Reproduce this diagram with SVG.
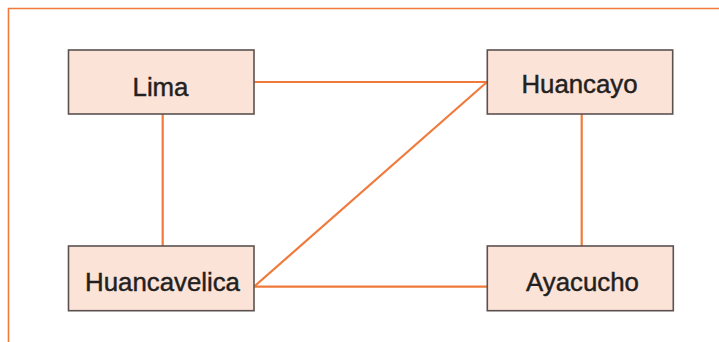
<svg xmlns="http://www.w3.org/2000/svg" width="719" height="342" viewBox="0 0 719 342">
<style>
.box{fill:#fce3d8;stroke:#5b5250;stroke-width:1.6}
.lbl{font-family:"Liberation Sans",Arial,sans-serif;font-size:25.8px;fill:#231f20;stroke:#231f20;stroke-width:0.45;text-anchor:middle}
.edge{stroke:#f07a3a;stroke-width:2.2;fill:none}
.frame{stroke:#f07a3a;stroke-width:1.6;fill:none}
</style>
<rect width="719" height="342" fill="#ffffff"/>
<path class="frame" d="M8.5,342 V8.5 H719"/>
<g id="connectors">
<line class="edge" x1="254" y1="82" x2="487" y2="82"/>
<line class="edge" x1="162.7" y1="114" x2="162.7" y2="246"/>
<line class="edge" x1="581.7" y1="114" x2="581.7" y2="246"/>
<line class="edge" x1="254" y1="286.7" x2="487" y2="286.7"/>
<line class="edge" x1="254" y1="286.7" x2="487" y2="82"/>
</g>
<g id="lima">
<rect class="box" x="68.5" y="50" width="185.5" height="64"/>
<text class="lbl" x="160.5" y="95.5">Lima</text>
</g>
<g id="huancayo">
<rect class="box" x="487.3" y="50" width="185.4" height="64"/>
<text class="lbl" x="579.5" y="92.5">Huancayo</text>
</g>
<g id="huancavelica">
<rect class="box" x="68.5" y="246" width="185.5" height="64.7"/>
<text class="lbl" x="162.5" y="291">Huancavelica</text>
</g>
<g id="ayacucho">
<rect class="box" x="487.3" y="246" width="186" height="64.7"/>
<text class="lbl" x="582.5" y="290.7">Ayacucho</text>
</g>
</svg>
